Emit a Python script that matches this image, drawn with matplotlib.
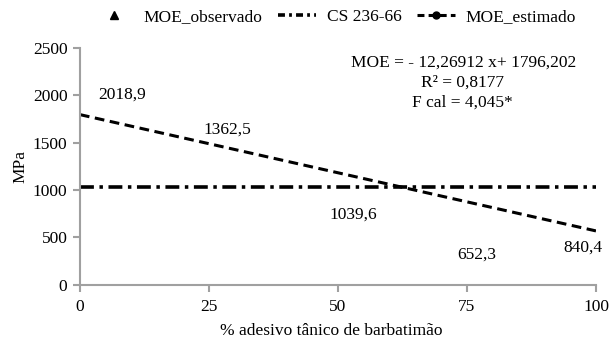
import matplotlib.pyplot as plt
from matplotlib.lines import Line2D

plt.rcParams['font.family'] = ['Liberation Serif', 'DejaVu Serif']
plt.rcParams['font.size'] = 12.5
plt.rcParams['lines.scale_dashes'] = False

adesivo = [0, 25, 50, 75, 100]
moe_observado = [2018.9, 1362.5, 1039.6, 652.3, 840.4]
moe_estimado = [1796.2, 1489.5, 1182.7, 876.0, 569.3]
cs_236_66 = [1029, 1029, 1029, 1029, 1029]

# where the data labels sit (they are moved off the points in the original)
label_x = [8.1, 28.5, 52.9, 76.9, 97.5]
label_y = [2004, 1635, 738, 316, 390]

grey = '#a0a0a0'
fs = 12.5

fig = plt.figure(figsize=(6.1, 3.47), dpi=100)
ax = fig.add_axes([0.131, 0.179, 0.846, 0.683])

ax.plot(adesivo, cs_236_66, color='black', lw=2.6, dashes=(10, 4, 2.5, 4),
        dash_capstyle='butt')
ax.plot(adesivo, moe_estimado, color='black', lw=2.2, dashes=(7, 4),
        dash_capstyle='butt')

for xl, yl, v in zip(label_x, label_y, moe_observado):
    ax.text(xl, yl, f"{v:.1f}".replace('.', ','), ha='center', va='center',
            fontsize=fs)

ax.text(74.4, 2342, "MOE = - 12,26912 x+ 1796,202", ha='center', va='center', fontsize=fs)
ax.text(74.2, 2131, "R² = 0,8177", ha='center', va='center', fontsize=fs)
ax.text(74.2, 1920, "F cal = 4,045*", ha='center', va='center', fontsize=fs)

ax.set_xlim(0, 100)
ax.set_ylim(0, 2500)
ax.set_xticks([0, 25, 50, 75, 100])
ax.set_yticks([0, 500, 1000, 1500, 2000, 2500])
for s in ['top', 'right']:
    ax.spines[s].set_visible(False)
for s in ['left', 'bottom']:
    ax.spines[s].set_color(grey)
    ax.spines[s].set_linewidth(1.5)
ax.tick_params(axis='both', colors=grey, width=1.5, length=5, labelcolor='black',
               labelsize=fs)
ax.tick_params(axis='x', direction='out', pad=5)
ax.tick_params(axis='y', pad=4)
ax.set_xlabel("% adesivo tânico de barbatimão", fontsize=fs, labelpad=6)
ax.xaxis.label.set_x(0.488)
ax.set_ylabel("MPa", fontsize=fs, labelpad=3)

handles = [
    Line2D([], [], color='black', marker='^', linestyle='none', markersize=6),
    Line2D([], [], color='black', lw=2.6, dashes=(5, 3, 2, 3)),
    Line2D([], [], color='black', lw=2.2, dashes=(5, 3), marker='o', markersize=5),
]
fig.legend(handles, ["MOE_observado", "CS 236-66", "MOE_estimado"], ncol=3,
           loc='center', bbox_to_anchor=(0.55, 0.951), frameon=False,
           fontsize=fs, handlelength=2.2, handletextpad=0.6, columnspacing=0.9)

fig.savefig("out.png", dpi=100)
